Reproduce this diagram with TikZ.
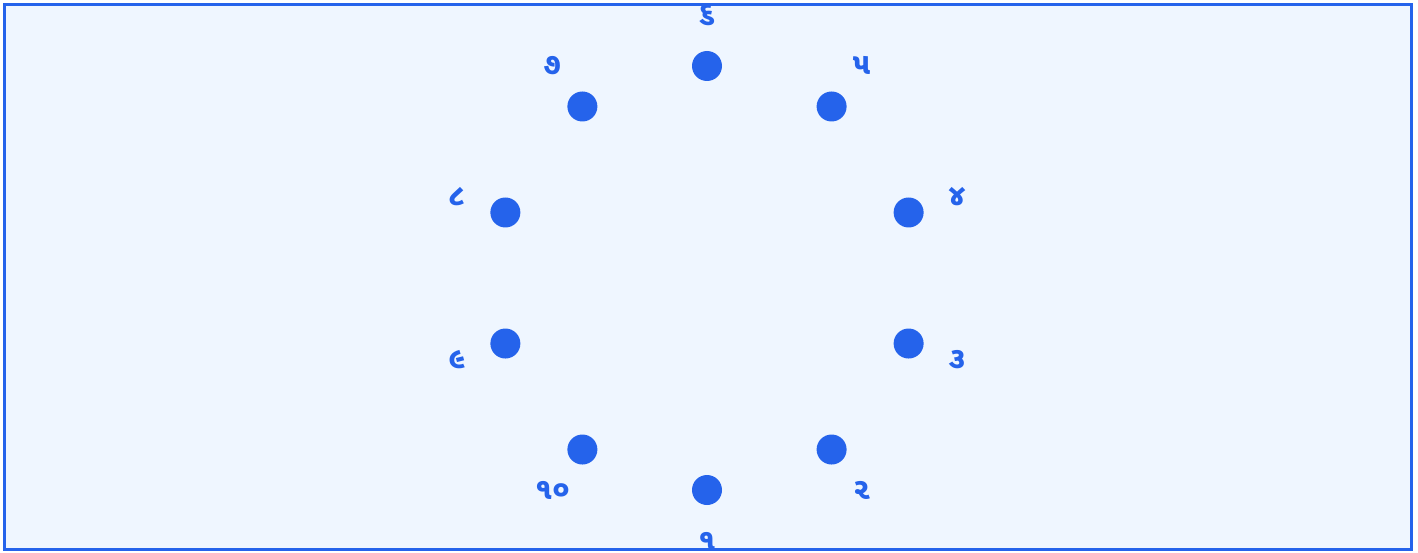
\documentclass[tikz,border=0pt]{standalone}
\usepackage{fontspec}
\newfontfamily\gujfont[Script=Gujarati]{Noto Sans Gujarati UI}
\usepackage{tikz}
\definecolor{dotblue}{HTML}{2563EB}
\definecolor{paleblue}{HTML}{EFF6FF}
\tikzset{
    dotmark/.style={circle, fill=dotblue, inner sep=0pt, minimum size=30pt},
    numlabel/.style={text=dotblue, font=\gujfont\bfseries\fontsize{30}{36}\selectfont, inner sep=0pt}
}

\begin{document}
\begin{tikzpicture}[x=1pt, y=1pt]
    \useasboundingbox (-707,-274) rectangle (711,278);
    \fill[paleblue] (-702,-271) rectangle (704,273);
    % dots and their numbers round the circle
    \foreach \k/\txt in {1/૧, 2/૨, 3/૩, 4/૪, 5/૫, 6/૬, 7/૭, 8/૮, 9/૯, 10/૧૦} {
        \node[dotmark] (p\k) at ({-90+(\k-1)*36}:212) {};
        \node[numlabel] (l\k) at ({-90+(\k-1)*36}:263) {\txt};
    }
    \draw[dotblue, line width=3pt] (-702,-271) rectangle (704,273);
\end{tikzpicture}
\end{document}
